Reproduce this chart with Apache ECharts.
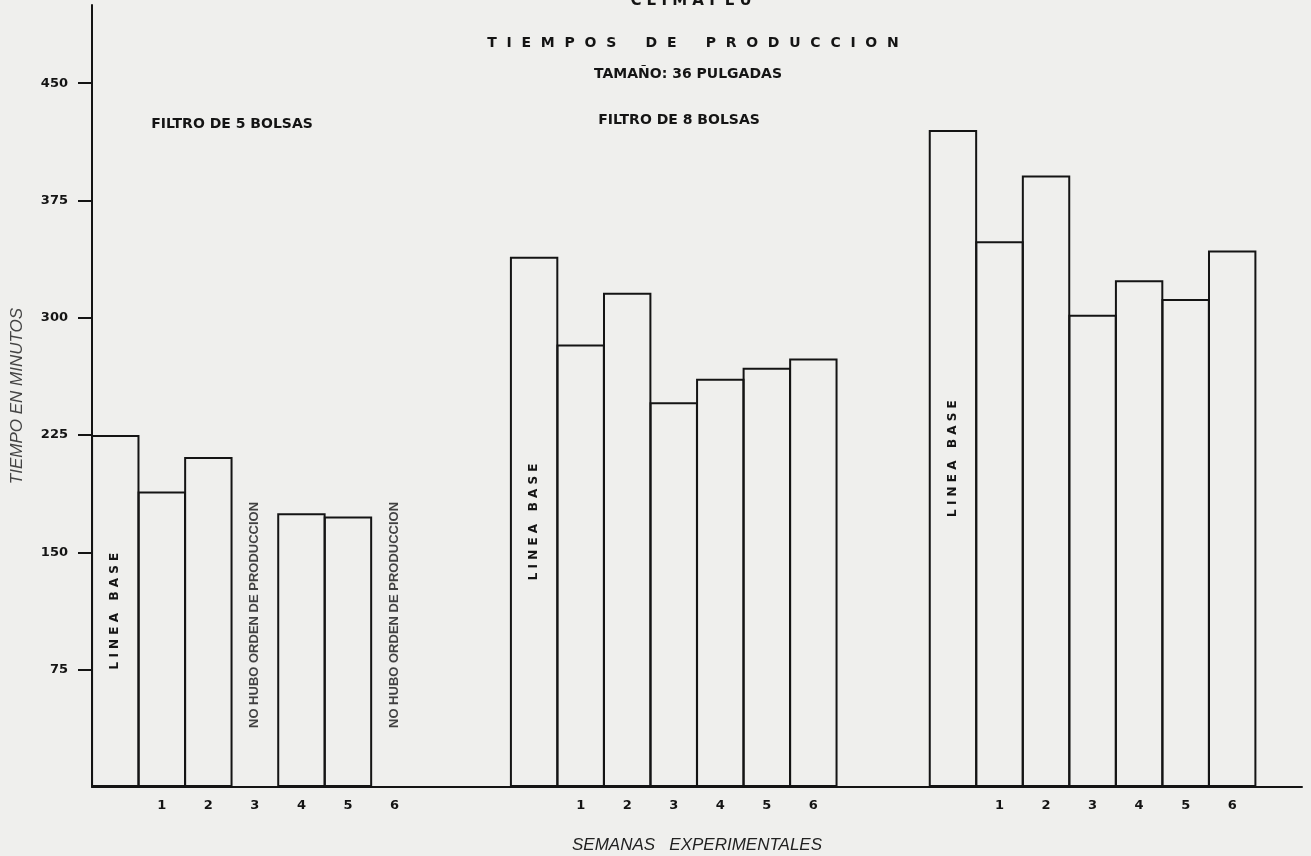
<!DOCTYPE html>
<html><head><meta charset="utf-8">
<script src="https://cdn.jsdelivr.net/npm/echarts@6/dist/echarts.min.js"></script>
<style>html,body{margin:0;padding:0;background:#efefed;} #c{width:1311px;height:856px;}</style>
</head><body><div id="c"></div>
<script>
// Slots along the x axis: three groups (baseline + 6 weeks), separated by empty slots
const categories = [
  'G1-LB','G1-1','G1-2','G1-3','G1-4','G1-5','G1-6','gapA','gapB',
  'G2-LB','G2-1','G2-2','G2-3','G2-4','G2-5','G2-6','gapC','gapD',
  'G3-LB','G3-1','G3-2','G3-3','G3-4','G3-5','G3-6','end'
];
const tickLabels = [
  '','1','2','3','4','5','6','','',
  '','1','2','3','4','5','6','','',
  '','1','2','3','4','5','6',''
];
// Tiempo en minutos (null = sin barra)
const tiempos = [
  225,189,211,null,175,173,null,null,null,
  339,283,316,246,261,268,274,null,null,
  420,349,391,302,324,312,343,null
];
const baseLineSlots = ['G1-LB','G2-LB','G3-LB'];
const noOrderSlots = ['G1-3','G1-6'];
const yTicks = [75,150,225,300,375,450];

const INK = '#141414';
const BOLD = {fontFamily:'DejaVu Sans', fontWeight:'bold', color: INK};
const NOTE_Y = 110;

const chart = echarts.init(document.getElementById('c'));
chart.setOption({
  backgroundColor: '#efefed',
  animation: false,
  grid: {left: 92, right: 9, top: 5, bottom: 69, containLabel: false, outerBoundsMode: 'none'},
  xAxis: {
    type: 'category', data: categories, boundaryGap: true,
    axisLine: {lineStyle: {color: INK, width: 2}},
    axisTick: {show: false},
    axisLabel: Object.assign({interval: 0, margin: 12, fontSize: 13,
      formatter: (v, i) => tickLabels[i]}, BOLD),
    name: 'SEMANAS   EXPERIMENTALES', nameLocation: 'middle', nameGap: 50,
    nameTextStyle: {fontFamily: 'Liberation Sans', fontStyle: 'italic', fontSize: 17, color: '#222'}
  },
  yAxis: {
    type: 'value', min: 0, max: 500, interval: 75,
    axisLine: {show: true, lineStyle: {color: INK, width: 2}},
    axisTick: {show: true, length: 14, lineStyle: {color: INK, width: 2}, customValues: yTicks},
    axisLabel: Object.assign({customValues: yTicks, margin: 24, fontSize: 13}, BOLD),
    splitLine: {show: false},
    name: 'TIEMPO EN MINUTOS', nameLocation: 'middle', nameGap: 66, nameRotate: 90,
    nameTextStyle: {fontFamily: 'Liberation Sans', fontStyle: 'italic', fontSize: 17, color: '#444'}
  },
  series: [
    {
      type: 'bar', data: tiempos, barWidth: '104%', barGap: '0%',
      itemStyle: {color: 'rgba(0,0,0,0)', borderColor: INK, borderWidth: 2},
      emphasis: {disabled: true},
      label: Object.assign({show: true, position: 'inside', rotate: 90, fontSize: 12,
        formatter: p => baseLineSlots.includes(p.name) ? 'L I N E A   B A S E' : ''}, BOLD)
    },
    {
      type: 'scatter', data: noOrderSlots.map(s => [s, NOTE_Y]),
      symbolSize: 1, itemStyle: {color: 'rgba(0,0,0,0)'},
      emphasis: {disabled: true},
      label: {show: true, position: 'inside', rotate: 90, fontSize: 13,
        fontFamily: 'Liberation Sans', fontWeight: 'bold', color: INK,
        formatter: 'NO HUBO ORDEN DE PRODUCCION'}
    }
  ],
  graphic: [
    {type: 'text', x: 691, y: 9, style: {text: 'C L I M A F L U', align: 'center', verticalAlign: 'bottom', fill: INK, font: 'bold 15px "DejaVu Sans"'}},
    {type: 'text', x: 693, y: 43, style: {text: 'T  I  E  M  P  O  S      D  E      P  R  O  D  U  C  C  I  O  N', align: 'center', verticalAlign: 'middle', fill: INK, font: 'bold 14px "DejaVu Sans"'}},
    {type: 'text', x: 688, y: 74, style: {text: 'TAMAÑO: 36 PULGADAS', align: 'center', verticalAlign: 'middle', fill: INK, font: 'bold 14px "DejaVu Sans"'}},
    {type: 'text', x: 679, y: 120, style: {text: 'FILTRO DE 8 BOLSAS', align: 'center', verticalAlign: 'middle', fill: INK, font: 'bold 14px "DejaVu Sans"'}},
    {type: 'text', x: 232, y: 124, style: {text: 'FILTRO DE 5 BOLSAS', align: 'center', verticalAlign: 'middle', fill: INK, font: 'bold 14px "DejaVu Sans"'}}
  ]
});
</script></body></html>
